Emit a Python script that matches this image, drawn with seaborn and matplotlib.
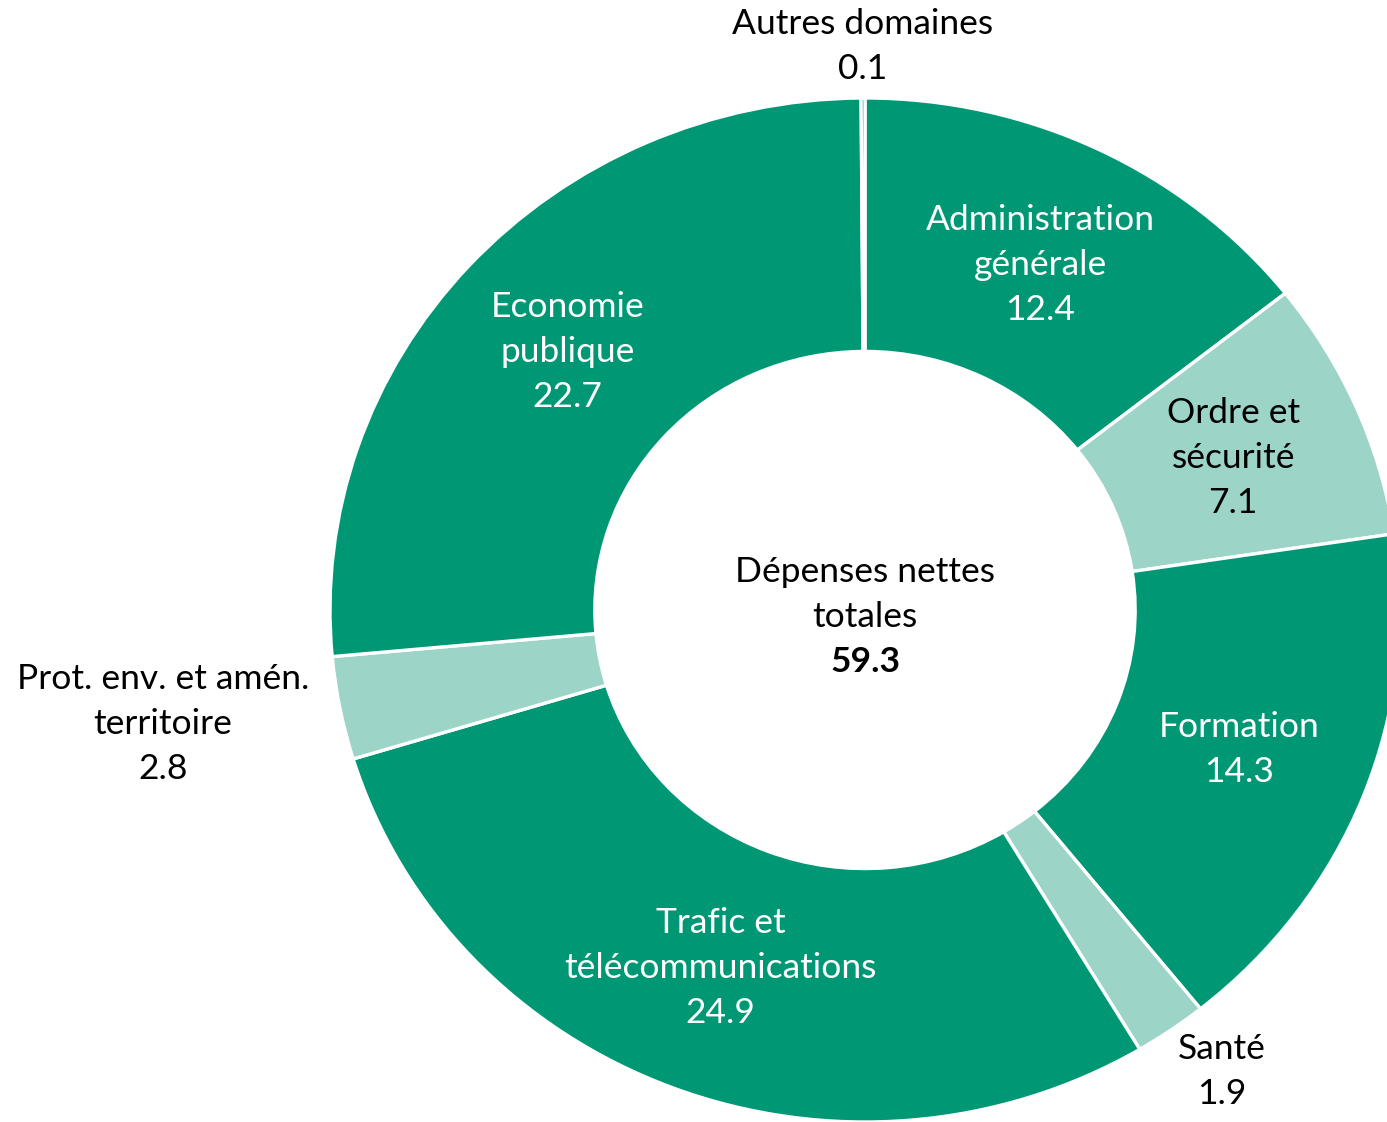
"""Donut chart of net expenditure by domain."""
# %%
import numpy as np
import seaborn as sns
import matplotlib.pyplot as plt

# %%
domains = [
    "Administration\ngénérale",
    "Ordre et\nsécurité",
    "Formation",
    "Santé",
    "Trafic et\ntélécommunications",
    "Prot. env. et amén.\nterritoire",
    "Economie\npublique",
    "Autres domaines",
]
values = [12.4, 7.1, 14.3, 1.9, 24.9, 2.8, 22.7, 0.1]
shade = ["dark", "light", "dark", "light", "dark", "light", "dark", "dark"]
total_label = "Dépenses nettes\ntotales"
total_value = "59.3"

# %%
sns.set_theme(style="white")
plt.rcParams["font.family"] = ["Lato", "DejaVu Sans"]

palette = {"dark": "#009874", "light": "#9cd5c8"}
colors = [palette[s] for s in shade]
fs = 25.5
ls = 1.5

fig = plt.figure(figsize=(13.87, 11.22), dpi=100)
ax = fig.add_axes([0, 0, 1, 1])
wedges, _ = ax.pie(
    values,
    colors=colors,
    startangle=90,
    counterclock=False,
    radius=1.0,
    wedgeprops=dict(width=0.495, edgecolor="white", linewidth=2.4),
)
ax.set_aspect("auto")
ax.set_xlim(-865 / 535, 522 / 535)
ax.set_ylim(-1.0, 610 / 512)
ax.axis("off")

# label placement: inside labels on the ring, small slices outside
# (radius, dx, dy) for labels put outside the ring
outside = {
    "Santé": (1.12, 0.026, 0.018),
    "Prot. env. et amén.\nterritoire": (1.32, -0.017, 0.03),
    "Autres domaines": (1.10, 0.0, 0.0),
}
for w, name, val, s in zip(wedges, domains, values, shade):
    mid = np.deg2rad((w.theta1 + w.theta2) / 2)
    r, dx, dy = outside.get(name, (0.75, 0.0, 0.0))
    color = "white" if (s == "dark" and name not in outside) else "black"
    ax.text(
        r * np.cos(mid) + dx,
        r * np.sin(mid) + dy,
        f"{name}\n{val}",
        ha="center",
        va="center",
        multialignment="center",
        color=color,
        fontsize=fs,
        linespacing=ls,
    )

ax.text(0, 0.030, total_label, ha="center", va="center",
        fontsize=fs, linespacing=ls, color="black")
ax.text(0, -0.102, total_value, ha="center", va="center",
        fontsize=fs, fontweight="bold", color="black")

plt.savefig("out.png", dpi=100)
